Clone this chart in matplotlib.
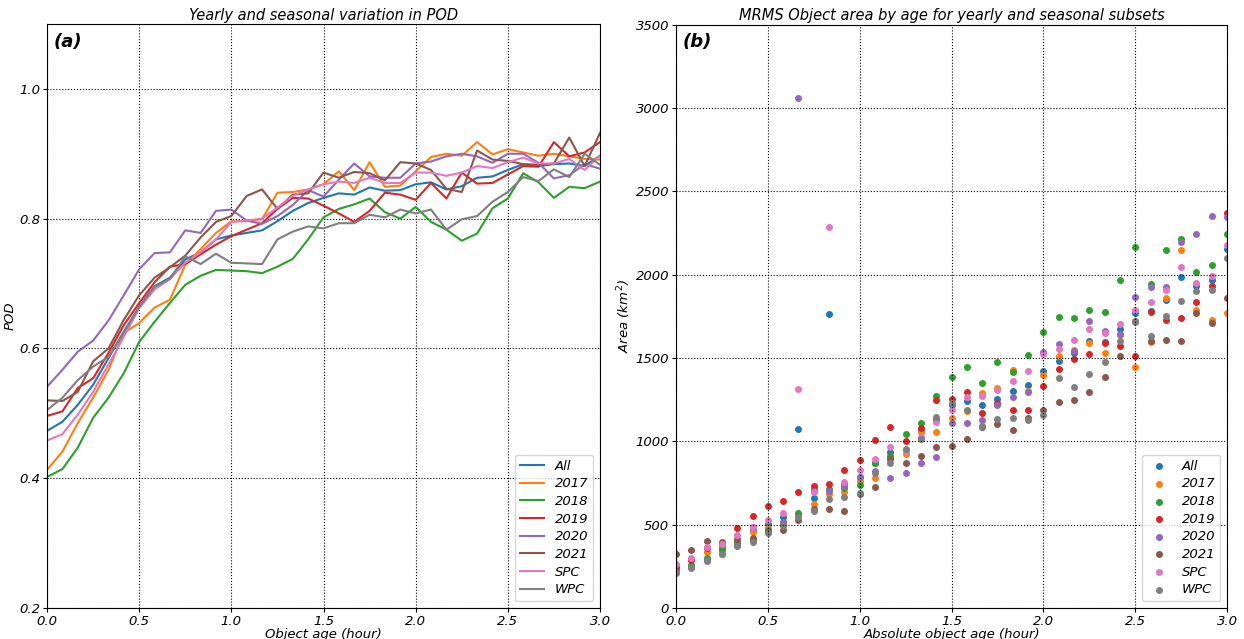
import numpy as np
import matplotlib.pyplot as plt

# object age in hours (5 minute steps)
age = np.arange(37) / 12.0
labels = ['All', '2017', '2018', '2019', '2020', '2021', 'SPC', 'WPC']

# POD by age for each subset
pod_all = [0.473, 0.487, 0.513, 0.544, 0.585, 0.626, 0.664, 0.696, 0.709, 0.737, 0.748, 0.768,
           0.774, 0.778, 0.782, 0.796, 0.812, 0.824, 0.832, 0.839, 0.837, 0.848, 0.843, 0.844,
           0.853, 0.856, 0.845, 0.850, 0.863, 0.865, 0.875, 0.884, 0.881, 0.884, 0.885, 0.881, 0.897]
pod_2017 = [0.413, 0.441, 0.485, 0.524, 0.567, 0.624, 0.639, 0.663, 0.675, 0.729, 0.753, 0.778,
            0.796, 0.796, 0.799, 0.840, 0.841, 0.845, 0.853, 0.873, 0.844, 0.887, 0.849, 0.851,
            0.873, 0.895, 0.900, 0.897, 0.918, 0.899, 0.907, 0.902, 0.897, 0.900, 0.896, 0.892, 0.891]
pod_2018 = [0.402, 0.414, 0.447, 0.493, 0.524, 0.562, 0.610, 0.641, 0.670, 0.698, 0.712, 0.721,
            0.720, 0.719, 0.716, 0.726, 0.738, 0.768, 0.802, 0.815, 0.822, 0.831, 0.810, 0.800,
            0.818, 0.795, 0.783, 0.766, 0.777, 0.816, 0.831, 0.870, 0.856, 0.832, 0.849, 0.847, 0.857]
pod_2019 = [0.496, 0.503, 0.539, 0.554, 0.593, 0.636, 0.670, 0.702, 0.726, 0.730, 0.745, 0.760,
            0.773, 0.783, 0.793, 0.815, 0.832, 0.831, 0.820, 0.808, 0.795, 0.812, 0.840, 0.837,
            0.829, 0.855, 0.831, 0.871, 0.854, 0.855, 0.868, 0.881, 0.880, 0.918, 0.896, 0.902, 0.918]
pod_2020 = [0.541, 0.567, 0.595, 0.612, 0.643, 0.682, 0.722, 0.747, 0.748, 0.782, 0.778, 0.812,
            0.814, 0.797, 0.792, 0.804, 0.821, 0.844, 0.834, 0.860, 0.885, 0.865, 0.863, 0.863,
            0.885, 0.888, 0.896, 0.900, 0.896, 0.886, 0.900, 0.900, 0.886, 0.862, 0.867, 0.884, 0.877]
pod_2021 = [0.520, 0.519, 0.533, 0.580, 0.600, 0.644, 0.682, 0.709, 0.725, 0.743, 0.771, 0.795,
            0.804, 0.835, 0.845, 0.815, 0.837, 0.839, 0.871, 0.863, 0.872, 0.870, 0.859, 0.887,
            0.885, 0.875, 0.846, 0.841, 0.905, 0.891, 0.889, 0.884, 0.883, 0.885, 0.925, 0.881, 0.932]
pod_spc = [0.458, 0.468, 0.498, 0.533, 0.575, 0.618, 0.662, 0.691, 0.707, 0.732, 0.748, 0.768,
           0.795, 0.797, 0.800, 0.817, 0.835, 0.845, 0.853, 0.857, 0.855, 0.863, 0.855, 0.855,
           0.871, 0.871, 0.866, 0.871, 0.881, 0.878, 0.887, 0.894, 0.885, 0.885, 0.892, 0.875, 0.897]
pod_wpc = [0.505, 0.524, 0.551, 0.572, 0.587, 0.624, 0.664, 0.695, 0.707, 0.742, 0.730, 0.746,
           0.732, 0.731, 0.730, 0.768, 0.780, 0.788, 0.785, 0.793, 0.793, 0.806, 0.802, 0.814,
           0.808, 0.814, 0.783, 0.799, 0.804, 0.826, 0.841, 0.864, 0.858, 0.876, 0.864, 0.900, 0.883]

# MRMS object area (km^2) by age for each subset
area_all = [240, 250, 294, 358, 394, 468, 504, 544, 1073, 660, 1762, 742, 788, 868, 938, 950,
            1070, 1128, 1220, 1240, 1216, 1256, 1300, 1336, 1424, 1480, 1530, 1600, 1596, 1676,
            1770, 1780, 1850, 1986, 1934, 1966, 2154]
area_2017 = [250, 294, 338, 378, 388, 458, 482, 512, 560, 624, 682, 698, 762, 782, 900, 924,
             1058, 1058, 1140, 1180, 1290, 1318, 1426, 1300, 1396, 1510, 1550, 1590, 1530, 1636,
             1444, 1594, 1860, 2150, 1790, 1730, 1770]
area_2018 = [225, 258, 300, 348, 392, 410, 470, 516, 572, 713, 714, 718, 738, 872, 914, 1042,
             1112, 1274, 1384, 1446, 1350, 1474, 1416, 1520, 1654, 1746, 1740, 1790, 1774, 1970,
             2164, 1944, 2150, 2216, 2016, 2056, 2244]
area_2019 = [245, 288, 360, 382, 482, 552, 612, 642, 695, 733, 742, 828, 888, 1006, 1088, 1004,
             1078, 1248, 1256, 1294, 1170, 1230, 1190, 1190, 1330, 1436, 1494, 1526, 1590, 1570,
             1514, 1778, 1730, 1740, 1834, 1934, 2370]
area_2020 = [215, 240, 282, 326, 378, 484, 458, 518, 3060, 700, 700, 732, 788, 824, 782, 808,
             868, 908, 1110, 1110, 1130, 1216, 1264, 1298, 1534, 1584, 1544, 1724, 1660, 1646,
             1866, 1926, 1926, 2196, 2246, 2350, 2344]
area_2021 = [326, 350, 404, 396, 412, 418, 462, 468, 525, 595, 594, 582, 682, 724, 892, 872,
             914, 968, 974, 1014, 1086, 1102, 1066, 1140, 1186, 1236, 1246, 1294, 1386, 1510,
             1720, 1600, 1610, 1600, 1770, 1710, 1860]
area_spc = [263, 303, 364, 386, 438, 484, 530, 568, 1314, 693, 2285, 758, 828, 892, 968, 942,
            1028, 1114, 1190, 1266, 1270, 1310, 1364, 1420, 1526, 1556, 1610, 1674, 1650, 1706,
            1790, 1836, 1906, 2046, 1950, 1994, 2176]
area_wpc = [210, 245, 290, 322, 374, 398, 448, 490, 548, 584, 654, 668, 692, 808, 870, 954,
            1014, 1148, 1230, 1186, 1094, 1136, 1142, 1130, 1160, 1380, 1326, 1404, 1474, 1604,
            1716, 1630, 1750, 1840, 1900, 1906, 2100]

pod_series = [pod_all, pod_2017, pod_2018, pod_2019, pod_2020, pod_2021, pod_spc, pod_wpc]
area_series = [area_all, area_2017, area_2018, area_2019, area_2020, area_2021, area_spc, area_wpc]

legend_font = {'style': 'italic', 'size': 9.5}

fig = plt.figure(figsize=(12.44, 6.39), dpi=100)
ax1 = fig.add_axes([0.0378, 0.0485, 0.4445, 0.914])
ax2 = fig.add_axes([0.5434, 0.0485, 0.443, 0.913])

for name, vals in zip(labels, pod_series):
    ax1.plot(age, vals, linewidth=1.5, label=name)
ax1.set_xlim(0, 3)
ax1.set_ylim(0.2, 1.1)
ax1.set_yticks([0.2, 0.4, 0.6, 0.8, 1.0])
ax1.set_xticks([0.0, 0.5, 1.0, 1.5, 2.0, 2.5, 3.0])
ax1.grid(True, color='black', linestyle=':', linewidth=0.8)
ax1.set_title('Yearly and seasonal variation in POD', fontstyle='italic', fontsize=10.5, pad=3)
ax1.set_xlabel('Object age (hour)', fontstyle='italic', fontsize=9.5, labelpad=0)
ax1.set_ylabel('POD', fontstyle='italic', fontsize=9.5, labelpad=2)
ax1.text(0.012, 0.985, '(a)', transform=ax1.transAxes, fontsize=13, fontweight='bold',
         fontstyle='italic', va='top')
ax1.legend(loc='lower right', prop=legend_font, labelspacing=0.35, handlelength=1.8)

for name, vals in zip(labels, area_series):
    ax2.scatter(age, vals, s=16, label=name)
ax2.set_xlim(0, 3)
ax2.set_ylim(0, 3500)
ax2.set_xticks([0.0, 0.5, 1.0, 1.5, 2.0, 2.5, 3.0])
ax2.grid(True, color='black', linestyle=':', linewidth=0.8)
ax2.set_title('MRMS Object area by age for yearly and seasonal subsets', fontstyle='italic',
              fontsize=10.5, pad=3)
ax2.set_xlabel('Absolute object age (hour)', fontstyle='italic', fontsize=9.5, labelpad=0)
ax2.set_ylabel('Area ($km^2$)', fontstyle='italic', fontsize=9.5, labelpad=2)
ax2.text(0.012, 0.985, '(b)', transform=ax2.transAxes, fontsize=13, fontweight='bold',
         fontstyle='italic', va='top')
ax2.legend(loc='lower right', prop=legend_font, labelspacing=0.35, handlelength=1.8)

for ax in (ax1, ax2):
    ax.tick_params(pad=2, length=3)
    for lab in ax.get_xticklabels() + ax.get_yticklabels():
        lab.set_fontstyle('italic')
        lab.set_fontsize(9.5)

fig.savefig('out.png', dpi=100)
